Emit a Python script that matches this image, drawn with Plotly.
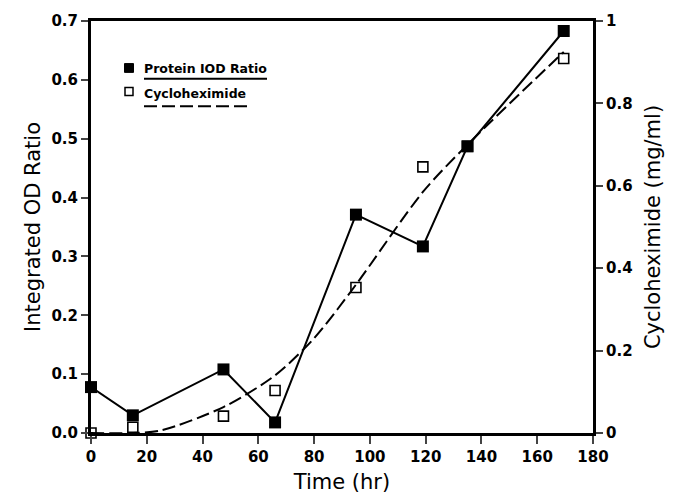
import plotly.graph_objects as go

# Data
time_hr = [0, 15, 47.5, 66, 95, 119, 135, 169.5]
protein_iod = [0.078, 0.030, 0.108, 0.018, 0.371, 0.317, 0.487, 0.683]
cyclohex = [0.0, 0.014, 0.041, 0.103, 0.353, 0.646, 0.696, 0.909]

# dashed trend curve (mg/ml)
fit_time = [0, 15, 25, 47.5, 66, 80, 95, 119, 135, 169.5]
fit_cyclo = [0.0, 0.0, 0.006, 0.063, 0.140, 0.230, 0.360, 0.585, 0.700, 0.925]

x_ticks = [0, 20, 40, 60, 80, 100, 120, 140, 160, 180]
y_ticks = [0.0, 0.1, 0.2, 0.3, 0.4, 0.5, 0.6, 0.7]
y2_ticks = [0, 0.2, 0.4, 0.6, 0.8, 1]

legend_labels = ["Protein IOD Ratio", "Cycloheximide"]

fig = go.Figure()

fig.add_trace(go.Scatter(
    x=time_hr, y=protein_iod, mode="lines+markers", name=legend_labels[0],
    line=dict(color="black", width=2),
    marker=dict(symbol="square", size=12, color="black"),
    cliponaxis=False, showlegend=False))

fig.add_trace(go.Scatter(
    x=fit_time, y=fit_cyclo, mode="lines", yaxis="y2",
    line=dict(color="black", width=2, dash="13px,5px", shape="spline", smoothing=0.8),
    cliponaxis=False, showlegend=False))

fig.add_trace(go.Scatter(
    x=time_hr, y=cyclohex, mode="markers", name=legend_labels[1], yaxis="y2",
    marker=dict(symbol="square-open", size=10, color="black", line=dict(width=1.6)),
    cliponaxis=False, showlegend=False))

tickfont = dict(family="DejaVu Sans", size=15, color="black", weight="bold")
titlefont = dict(family="DejaVu Sans", size=21, color="black")

TOP, BOT = 14, 435
fig.update_layout(
    width=674, height=503,
    margin=dict(l=91, r=81, t=TOP, b=503 - BOT),
    paper_bgcolor="white", plot_bgcolor="white",
    xaxis=dict(range=[0, 180], tickvals=x_ticks, ticks="outside", ticklen=8, tickwidth=2,
               showline=True, linewidth=3, linecolor="black", mirror=True,
               showgrid=False, zeroline=False, tickfont=tickfont,
               title=dict(text="Time (hr)", font=titlefont, standoff=10)),
    yaxis=dict(range=[0, 0.7], tickvals=y_ticks, tickformat=".1f", ticks="outside",
               ticklen=7, tickwidth=2, showline=True, linewidth=3, linecolor="black",
               showgrid=False, zeroline=False, tickfont=tickfont,
               title=dict(text="Integrated OD Ratio", font=titlefont, standoff=6)),
    yaxis2=dict(range=[0, 1], tickvals=y2_ticks, overlaying="y", side="right",
                ticks="outside", ticklen=7, tickwidth=2, showline=True, linewidth=3,
                linecolor="black", showgrid=False, zeroline=False, tickfont=tickfont,
                title=dict(text="Cycloheximide (mg/ml)", font=titlefont, standoff=14)),
)

# Manual legend (text with the line sample drawn beneath, as in the reference)
def px_x(p):
    return (p - 91) / 502.0

def px_y(p):
    return (BOT - p) / float(BOT - TOP)

fig.add_shape(type="rect", xref="paper", yref="paper",
              x0=px_x(124.5), x1=px_x(133.5), y0=px_y(66.5), y1=px_y(57.5),
              fillcolor="black", line=dict(color="black", width=1))
fig.add_shape(type="rect", xref="paper", yref="paper",
              x0=px_x(125), x1=px_x(133), y0=px_y(90), y1=px_y(82),
              fillcolor="white", line=dict(color="black", width=1.5))
fig.add_shape(type="line", xref="paper", yref="paper",
              x0=px_x(144), x1=px_x(267), y0=px_y(73), y1=px_y(73),
              line=dict(color="black", width=2))
fig.add_shape(type="line", xref="paper", yref="paper",
              x0=px_x(144), x1=px_x(249), y0=px_y(101), y1=px_y(101),
              line=dict(color="black", width=2, dash="13px,5px"))
legfont = dict(family="DejaVu Sans", size=12.5, color="black", weight="bold")
fig.add_annotation(x=px_x(142), y=px_y(63), xref="paper", yref="paper",
                   text=legend_labels[0], showarrow=False, xanchor="left",
                   yanchor="middle", font=legfont)
fig.add_annotation(x=px_x(142), y=px_y(88), xref="paper", yref="paper",
                   text=legend_labels[1], showarrow=False, xanchor="left",
                   yanchor="middle", font=legfont)

fig.write_html("out.html")
